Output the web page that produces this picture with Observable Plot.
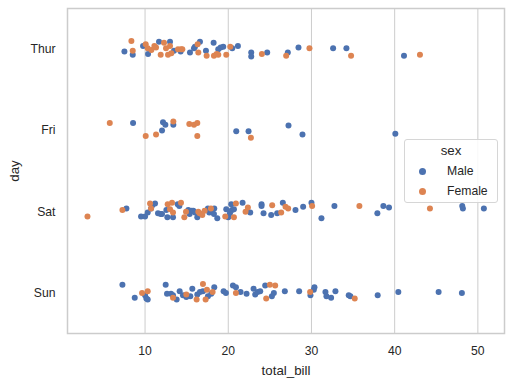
<!DOCTYPE html>
<html>
<head>
<meta charset="utf-8">
<script src="https://cdn.jsdelivr.net/npm/d3@7"></script>
<script src="https://cdn.jsdelivr.net/npm/@observablehq/plot@0.6"></script>
<style>
  html, body { margin: 0; padding: 0; background: #fff; }
  #wrap { position: relative; width: 512px; height: 385px; font-family: "Liberation Sans", Arial, sans-serif; }
  #legend { position: absolute; left: 404px; top: 139px; width: 92px; height: 62px;
    border: 1px solid #d6d6d6; border-radius: 3px; background: rgba(255,255,255,0.85);
    color: #262626; font-family: "Liberation Sans", Arial, sans-serif; }
  #legend .title { position: absolute; left: 0; width: 92px; top: 3px; text-align: center; font-size: 13.3px; }
  #legend .item { position: absolute; left: 0; font-size: 12.2px; }
  #legend .sw { position: absolute; width: 7px; height: 7px; border-radius: 50%; left: 14px; }
  #legend .lb { position: absolute; left: 42px; white-space: nowrap; }
</style>
</head>
<body>
<div id="wrap"></div>
<script>
const days = ["Thur", "Fri", "Sat", "Sun"];
const sexes = ["Male", "Female"];
const sexColors = ["#4c72b0", "#dd8452"];
const xTicks = [10, 20, 30, 40, 50];

// Thursday
const thurMaleBill = [7.52, 8.52, 9.76, 10.36, 11.68, 13.0, 13.48, 14.28, 15.4, 15.88, 16.0, 16.6, 17.32, 18.24, 18.8, 19.08, 19.4, 20.48, 21.16, 22.76, 22.76, 24.68, 27.16, 28.44, 32.6, 34.2, 41.12];
const thurMaleJit = [0.03, 0.07, -0.04, 0.06, -0.09, -0.09, 0.02, 0.03, 0.04, -0.01, -0.03, -0.09, 0.02, -0.08, 0.0, -0.02, -0.03, -0.01, -0.04, 0.04, 0.09, 0.04, 0.04, -0.02, -0.01, -0.01, 0.08];
const thurFemaleBill = [8.36, 8.52, 10.08, 10.32, 10.76, 11.12, 11.32, 11.88, 12.28, 12.52, 12.76, 13.0, 13.16, 13.96, 14.32, 14.48, 16.32, 16.4, 17.4, 18.28, 18.6, 18.8, 19.76, 20.24, 24.04, 26.96, 29.76, 34.76, 43.04];
const thurFemaleJit = [-0.10, 0.02, -0.06, -0.01, 0.01, -0.04, -0.02, 0.07, -0.08, -0.01, 0.07, -0.04, 0.05, 0.0, 0.0, 0.0, -0.06, 0.04, 0.08, 0.08, 0.06, 0.07, 0.07, -0.03, 0.06, 0.08, -0.01, 0.08, 0.07];

// Friday
const friMaleBill = [8.56, 12.04, 12.16, 12.44, 13.4, 20.96, 22.44, 27.24, 28.92, 40.08];
const friMaleJit = [-0.09, 0.0, -0.10, -0.07, -0.07, 0.01, 0.01, -0.06, 0.05, 0.04];
const friFemaleBill = [5.76, 10.08, 11.32, 13.4, 15.32, 15.88, 16.28, 16.28, 22.72];
const friFemaleJit = [-0.09, 0.07, 0.05, -0.11, -0.08, -0.07, -0.09, 0.07, 0.09];

// Saturday
const satMaleBill = [7.76, 9.52, 10.0, 10.32, 10.72, 10.88, 11.2, 11.56, 11.88, 12.04, 12.56, 12.68, 13.36, 13.92, 14.12, 15.2, 15.36, 15.6, 15.8, 16.0, 16.28, 17.56, 17.72, 17.84, 18.12, 18.32, 18.28, 18.68, 19.76, 20.0, 20.2, 20.36, 20.44, 20.68, 21.72, 22.64, 24.0, 24.0, 24.24, 25.16, 25.88, 26.56, 28.08, 29.0, 30.0, 31.2, 32.76, 37.92, 38.64, 39.32, 48.12, 48.2, 50.72];
const satMaleJit = [-0.04, 0.06, 0.06, 0.01, -0.04, -0.08, -0.10, 0.02, 0.03, 0.03, -0.02, 0.07, 0.07, -0.09, -0.07, -0.02, 0.03, -0.01, -0.01, 0.01, 0.07, -0.04, 0.01, -0.02, -0.03, -0.04, 0.03, 0.08, -0.03, 0.07, 0.02, -0.09, -0.02, -0.03, -0.11, 0.01, -0.09, -0.07, 0.02, 0.04, 0.02, -0.11, -0.02, -0.06, -0.11, 0.08, -0.07, 0.02, -0.07, -0.05, -0.07, -0.04, -0.04];
const satFemaleBill = [3.08, 7.28, 10.6, 10.72, 12.72, 13.0, 13.24, 13.36, 14.32, 14.72, 14.92, 16.4, 16.56, 16.88, 17.16, 17.92, 19.64, 20.68, 20.92, 22.08, 22.36, 25.28, 26.36, 26.88, 27.2, 30.08, 35.76, 44.24];
const satFemaleJit = [0.06, -0.02, -0.10, -0.04, -0.09, -0.03, -0.11, 0.01, -0.11, 0.07, 0.0, 0.0, 0.02, 0.04, -0.01, -0.04, 0.06, 0.07, -0.10, 0.0, -0.05, -0.08, 0.01, -0.06, -0.04, -0.07, -0.07, -0.04];

// Sunday
const sunMaleBill = [7.28, 8.76, 10.0, 10.16, 10.32, 12.48, 12.64, 13.12, 13.36, 13.8, 14.16, 14.56, 14.96, 15.44, 15.68, 16.28, 16.6, 16.96, 17.56, 17.96, 18.32, 19.44, 19.72, 20.56, 20.92, 21.48, 22.2, 23.04, 23.24, 23.52, 23.84, 24.44, 25.24, 25.48, 26.8, 28.52, 29.88, 30.28, 30.36, 31.68, 31.8, 32.36, 32.88, 34.48, 34.68, 37.96, 40.44, 45.28, 48.08];
const sunMaleJit = [-0.10, 0.06, 0.03, 0.07, 0.08, -0.10, 0.01, 0.01, 0.03, 0.08, -0.02, 0.03, 0.05, 0.04, -0.05, 0.02, -0.01, -0.02, 0.04, 0.01, -0.07, -0.02, 0.0, -0.09, -0.07, -0.01, 0.01, -0.05, 0.02, -0.01, -0.02, -0.09, 0.04, 0.0, -0.02, -0.02, 0.03, -0.04, -0.07, -0.01, 0.04, 0.06, -0.02, 0.03, 0.04, 0.03, -0.01, -0.01, 0.0];
const sunFemaleBill = [9.64, 10.32, 13.36, 14.96, 16.2, 16.96, 17.28, 17.44, 18.12, 20.92, 24.56, 25.0, 25.64, 29.84, 35.2];
const sunFemaleJit = [0.0, -0.02, 0.06, 0.02, 0.08, -0.11, 0.08, -0.04, -0.01, 0.0, 0.07, -0.10, -0.09, -0.01, 0.07];

const groups = [
  ["Thur", "Male", thurMaleBill, thurMaleJit],
  ["Fri", "Male", friMaleBill, friMaleJit],
  ["Sat", "Male", satMaleBill, satMaleJit],
  ["Sun", "Male", sunMaleBill, sunMaleJit],
  ["Thur", "Female", thurFemaleBill, thurFemaleJit],
  ["Fri", "Female", friFemaleBill, friFemaleJit],
  ["Sat", "Female", satFemaleBill, satFemaleJit],
  ["Sun", "Female", sunFemaleBill, sunFemaleJit]
];
const rows = [];
for (const [day, sex, bills, jits] of groups) {
  bills.forEach((b, i) => rows.push({day, sex, total_bill: b, pos: days.indexOf(day) + jits[i]}));
}

const plot = Plot.plot({
  width: 512,
  height: 385,
  marginLeft: 67,
  marginRight: 8,
  marginTop: 8,
  marginBottom: 52,
  style: {fontFamily: "'Liberation Sans', Arial, sans-serif", fontSize: "12.2px", color: "#262626", background: "#fff"},
  x: {domain: [0.68, 53.2]},
  y: {domain: [-0.5, 3.5], reverse: true},
  color: {domain: sexes, range: sexColors},
  marks: [
    Plot.gridX(xTicks, {stroke: "#cccccc", strokeOpacity: 1, strokeWidth: 1}),
    Plot.frame({stroke: "#cccccc", strokeWidth: 1.5}),
    Plot.axisX(xTicks, {tickSize: 0, tickPadding: 13, label: "total_bill", labelArrow: "none", labelAnchor: "center", labelOffset: 41, fontSize: 12.2}),
    Plot.axisY([0, 1, 2, 3], {tickSize: 0, tickPadding: 12, tickFormat: i => days[i], label: "day", labelArrow: "none", labelAnchor: "center", labelOffset: 58, fontSize: 12.2}),
    Plot.dot(rows, {x: "total_bill", y: "pos", fill: "sex", r: 3, stroke: null})
  ]
});
plot.querySelectorAll("[aria-label='x-axis label'] text, [aria-label='y-axis label'] text").forEach(t => t.setAttribute("font-size", "13.3"));
const wrap = document.getElementById("wrap");
wrap.appendChild(plot);

const legend = document.createElement("div");
legend.id = "legend";
let html = `<div class="title">sex</div>`;
sexes.forEach((s, i) => {
  const top = 24 + i * 20;
  html += `<div class="item" style="top:${top}px;width:92px;height:16px">
    <span class="sw" style="background:${sexColors[i]};top:4px"></span>
    <span class="lb" style="top:0">${s}</span></div>`;
});
legend.innerHTML = html;
wrap.appendChild(legend);
</script>
</body>
</html>
